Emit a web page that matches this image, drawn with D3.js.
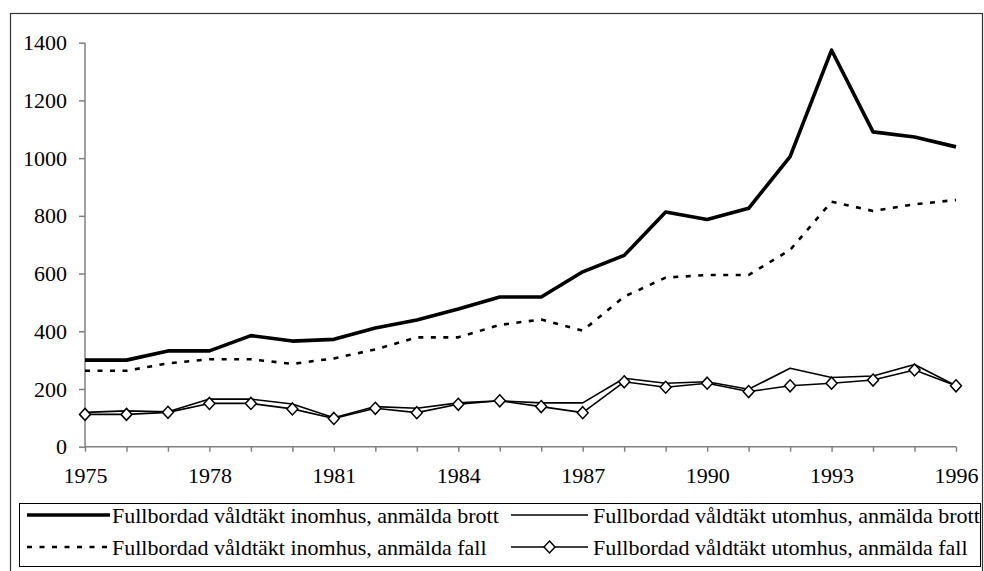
<!DOCTYPE html>
<html>
<head>
<meta charset="utf-8">
<script src="https://cdn.jsdelivr.net/npm/d3@7"></script>
<style>
body{margin:0;background:#fff}
svg{display:block}
text{font-family:"Liberation Serif","Times New Roman",serif;font-size:22px;fill:#000}
</style>
</head>
<body>
<svg width="984" height="571"></svg>
<script>
const years=d3.range(1975,1997)
const yTicks=[0,200,400,600,800,1000,1200,1400]
const xTickLabels=[1975,1978,1981,1984,1987,1990,1993,1996]

// inomhus, anmälda brott
const inneBrott=[300,300,332,332,385,366,372,411,439,477,519,519,606,663,813,787,826,1005,1374,1091,1073,1039]
// inomhus, anmälda fall
const inneFall=[263,263,289,303,303,287,306,337,379,379,422,441,402,520,586,595,595,682,849,817,840,855]
// utomhus, anmälda brott
const uteBrott=[119,124,121,165,165,148,100,139,133,152,159,152,152,237,220,225,199,272,240,245,285,211]
// utomhus, anmälda fall
const uteFall=[112,112,119,150,150,131,98,133,118,147,159,139,118,225,206,220,191,211,220,231,266,211]

const legendNames=["Fullbordad våldtäkt inomhus, anmälda brott","Fullbordad våldtäkt utomhus, anmälda brott","Fullbordad våldtäkt inomhus, anmälda fall","Fullbordad våldtäkt utomhus, anmälda fall"]

const svg=d3.select("svg")

// outer frame
svg.append("rect").attr("x",10.5).attr("y",13.5).attr("width",972).attr("height",600)
.attr("fill","none").attr("stroke","#333").attr("stroke-width",1.2)

const x=d3.scaleLinear().domain([1975,1996]).range([85,956])
const y=d3.scaleLinear().domain([0,1400]).range([446.7,42.7])

const yAxis=svg.append("g").attr("transform","translate(85,0)")
.call(d3.axisLeft(y).tickValues(yTicks).tickSize(6).tickPadding(12).tickFormat(d3.format("d")))
const xAxis=svg.append("g").attr("transform","translate(0,"+y(0)+")")
.call(d3.axisBottom(x).tickValues(years).tickSize(5).tickPadding(16).tickFormat(d=>xTickLabels.includes(d)?d:""))

svg.selectAll(".domain,.tick line").attr("stroke","#808080").attr("stroke-width",1.5)
svg.selectAll(".tick text").style("font-family",'"Liberation Serif",serif').style("font-size","22px").attr("fill","#000")
yAxis.selectAll(".domain").attr("d","M0,"+y(1400)+"V"+y(0))
xAxis.selectAll(".domain").attr("d","M"+x(1975)+",0H"+x(1996))

const line=d3.line().x((d,i)=>x(years[i])).y(d=>y(d))

const styles=[
{data:inneBrott,w:3.6,dash:null},
{data:uteBrott,w:1.6,dash:null},
{data:inneFall,w:2.6,dash:"5,7.5"},
{data:uteFall,w:1.6,dash:null}
]

// draw order: thin ones first
;[1,3,2,0].forEach(k=>{
const s=styles[k]
svg.append("path").attr("d",line(s.data)).attr("fill","none").attr("stroke","#000")
.attr("stroke-width",s.w).attr("stroke-dasharray",s.dash).attr("stroke-linejoin","round")
})

const diamond=(cx,cy)=>"M"+cx+","+(cy-6)+"L"+(cx+5.5)+","+cy+"L"+cx+","+(cy+6)+"L"+(cx-5.5)+","+cy+"Z"
svg.selectAll(".dia").data(uteFall).enter().append("path").attr("class","dia")
.attr("d",(d,i)=>diamond(x(years[i]),y(d))).attr("fill","#fff").attr("stroke","#000").attr("stroke-width",1.5)

// legend
const lg=svg.append("g")
lg.append("rect").attr("x",19.5).attr("y",503.5).attr("width",961).attr("height",63)
.attr("fill","#fff").attr("stroke","#000").attr("stroke-width",1)

const cols=[{x0:27,x1:110,tx:112},{x0:511,x1:588,tx:593}]
const rows=[515,547]
styles.forEach((s,k)=>{
const c=cols[k%2],r=rows[Math.floor(k/2)]
lg.append("line").attr("x1",c.x0).attr("x2",c.x1).attr("y1",r).attr("y2",r)
.attr("stroke","#000").attr("stroke-width",s.w).attr("stroke-dasharray",s.dash)
if(k==3){
lg.append("path").attr("d",diamond((c.x0+c.x1)/2,r)).attr("fill","#fff").attr("stroke","#000").attr("stroke-width",1.5)
}
lg.append("text").attr("x",c.tx).attr("y",r).attr("dy","0.35em").text(legendNames[k])
})
</script>
</body>
</html>
